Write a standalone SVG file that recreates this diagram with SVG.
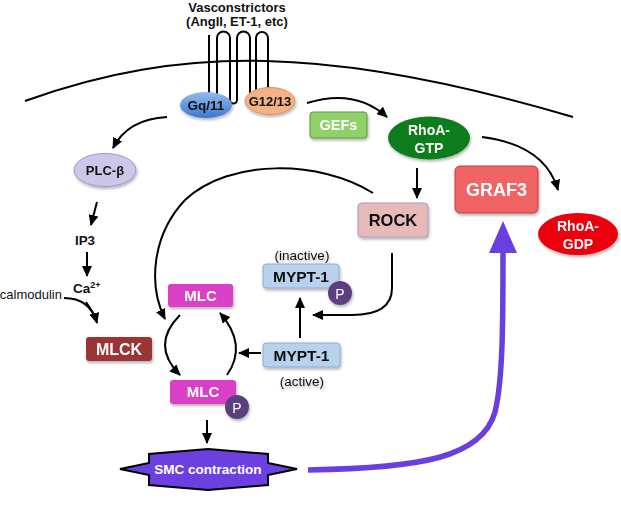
<svg xmlns="http://www.w3.org/2000/svg" width="621" height="516" viewBox="0 0 621 516">
<style>
text{font-family:"Liberation Sans",Arial,sans-serif;}
.b{font-weight:bold;}
.w{fill:#fff;}
.k{fill:#111;}
.ln{fill:none;stroke:#000;stroke-width:2;}
.arr{fill:none;stroke:#000;stroke-width:2;marker-end:url(#ah);}
</style>
<defs>
<marker id="ah" markerUnits="userSpaceOnUse" markerWidth="11" markerHeight="10" refX="10" refY="5" orient="auto">
<path d="M0,0 L11,5 L0,10 z" fill="#000"/>
</marker>
<filter id="sh" x="-20%" y="-20%" width="150%" height="160%">
<feDropShadow dx="1" dy="2" stdDeviation="1.5" flood-color="#000" flood-opacity="0.3"/>
</filter>
<linearGradient id="gq" x1="0" y1="0" x2="0" y2="1">
<stop offset="0" stop-color="#93bbec"/>
<stop offset="1" stop-color="#3c78cf"/>
</linearGradient>
</defs>

<g id="membrane">
<path class="ln" d="M25,101 C180,45 330,45 573,117"/>
</g>
<g id="receptor">
<path class="ln" d="M209,35 V95 M217,95 V38 a6.5,6.5 0 0 1 13,0 V100 a3.5,3.5 0 0 0 7,0 V38 a6.5,6.5 0 0 1 13,0 V100 a3,3 0 0 0 6,0 V38 a6,6 0 0 1 12,0 V95"/>
<text class="b k" x="237" y="12" font-size="13" text-anchor="middle">Vasconstrictors</text>
<text class="b k" x="237" y="25.5" font-size="13" text-anchor="middle">(AngII, ET-1, etc)</text>
</g>

<g id="connectors">
<path class="arr" d="M307,103 Q355,88 387,117"/>
<path class="arr" d="M167,117 Q128,119 113,148"/>
<path class="arr" d="M97,202 L91,225"/>
<path class="arr" d="M87,252 L87,276"/>
<path class="arr" d="M64,298 Q90,298 97,323"/>
<path class="ln" d="M86,302 Q90,308 93,313"/>
<path class="arr" d="M417,168 L417,198"/>
<path class="arr" d="M482,137 Q545,145 558,190"/>
<path class="arr" d="M392,253 L392,288 Q392,315 352,315 L313,315"/>
<path class="arr" d="M373,193 C320,160 230,158 185,200 C152,235 148,285 165,319"/>
<path class="arr" d="M300,338 L300,298"/>
<path class="arr" d="M261,353 L239,353"/>
<path class="arr" d="M180,315 Q150,345 180,375"/>
<path class="arr" d="M227,375 Q248,345 220,313"/>
<path class="arr" d="M207,420 L207,443"/>
<path d="M308,470 C420,468 482,458 495,412 C503,380 503,320 503,250" fill="none" stroke="#6a3fe0" stroke-width="5.5"/>
<polygon points="503,221 489,253 517,253" fill="#6a3fe0"/>
</g>

<g id="gq11" filter="url(#sh)">
<ellipse cx="206" cy="105" rx="26" ry="13" fill="url(#gq)"/>
<text class="b k" x="206" y="110" font-size="13.5" text-anchor="middle">Gq/11</text>
</g>
<g id="g1213" filter="url(#sh)">
<ellipse cx="270" cy="101" rx="25" ry="13.5" fill="#f4b183" stroke="#d49468" stroke-width="1"/>
<text class="b k" x="270" y="106" font-size="13" text-anchor="middle">G12/13</text>
</g>
<g id="gefs" filter="url(#sh)">
<rect x="310" y="112" width="57" height="26" rx="3" fill="#8fd068" stroke="#5f9a3c" stroke-width="1"/>
<text class="b w" x="338.5" y="130" font-size="14.5" text-anchor="middle">GEFs</text>
</g>
<g id="rhoa-gtp" filter="url(#sh)">
<ellipse cx="429" cy="138" rx="41" ry="21.5" fill="#0e7b1a"/>
<text class="b w" x="429" y="135" font-size="14" text-anchor="middle">RhoA-</text>
<text class="b w" x="429" y="153" font-size="14" text-anchor="middle">GTP</text>
</g>
<g id="rock" filter="url(#sh)">
<rect x="358" y="203" width="70" height="34" rx="4" fill="#e8b9b9" stroke="#a99ac0" stroke-width="1"/>
<text class="b k" x="393" y="226" font-size="16.5" text-anchor="middle">ROCK</text>
</g>
<g id="graf3" filter="url(#sh)">
<rect x="455" y="166" width="83" height="47" rx="5" fill="#f26464" stroke="#b84040" stroke-width="1"/>
<text class="b w" x="496.5" y="196" font-size="18" text-anchor="middle">GRAF3</text>
</g>
<g id="rhoa-gdp" filter="url(#sh)">
<ellipse cx="578" cy="234" rx="40" ry="21" fill="#ec0010"/>
<text class="b w" x="578" y="231" font-size="14" text-anchor="middle">RhoA-</text>
<text class="b w" x="578" y="249" font-size="14" text-anchor="middle">GDP</text>
</g>
<g id="plc" filter="url(#sh)">
<ellipse cx="105" cy="170" rx="31" ry="16.5" fill="#cdc6e8" stroke="#9f98cc" stroke-width="1"/>
<text class="b k" x="105" y="175" font-size="13" text-anchor="middle">PLC-β</text>
</g>
<g id="ip3">
<text class="b k" x="85" y="245" font-size="13.3" text-anchor="middle">IP3</text>
</g>
<g id="ca">
<text class="b k" x="73" y="293" font-size="13.5">Ca<tspan font-size="9" dy="-5">2+</tspan></text>
</g>
<g id="calmodulin">
<text class="k" x="62" y="299" font-size="13" text-anchor="end">calmodulin</text>
</g>
<g id="mlck" filter="url(#sh)">
<rect x="86" y="337" width="66" height="24" rx="3" fill="#9b3535"/>
<text class="b w" x="119" y="355" font-size="16" text-anchor="middle">MLCK</text>
</g>
<g id="mlc-top" filter="url(#sh)">
<rect x="168" y="284" width="65" height="23" rx="3" fill="#da3fc6"/>
<text class="b w" x="200.5" y="301" font-size="15" text-anchor="middle">MLC</text>
</g>
<g id="mlc-p" filter="url(#sh)">
<rect x="170" y="380" width="66" height="24" rx="3" fill="#da3fc6"/>
<text class="b w" x="203" y="397" font-size="15" text-anchor="middle">MLC</text>
<circle cx="237" cy="407" r="12" fill="#5b3f7e"/>
<text class="w" x="237" y="412.5" font-size="14" text-anchor="middle">P</text>
</g>
<g id="mypt-inactive" filter="url(#sh)">
<text class="k" x="302" y="260" font-size="13.5" text-anchor="middle">(inactive)</text>
<rect x="263" y="264" width="76" height="24" rx="3" fill="#b9d1ec" stroke="#8faad3" stroke-width="1"/>
<text class="b k" x="301" y="282" font-size="15.5" text-anchor="middle">MYPT-1</text>
<circle cx="340" cy="293" r="12" fill="#5b3f7e"/>
<text class="w" x="340" y="298.5" font-size="14" text-anchor="middle">P</text>
</g>
<g id="mypt-active" filter="url(#sh)">
<rect x="263" y="343" width="77" height="24" rx="3" fill="#b9d1ec" stroke="#8faad3" stroke-width="1"/>
<text class="b k" x="301.5" y="361" font-size="15.5" text-anchor="middle">MYPT-1</text>
<text class="k" x="302" y="386" font-size="13.5" text-anchor="middle">(active)</text>
</g>
<g id="smc">
<polygon points="120,469 149,463 149,454 208,449 268,454 268,463 297,469 268,475 268,485 208,490 149,485 149,475" fill="#6b3fe0" stroke="#000" stroke-width="2" stroke-linejoin="miter"/>
<text class="b w" x="208" y="473.5" font-size="13.5" text-anchor="middle">SMC contraction</text>
</g>
</svg>
